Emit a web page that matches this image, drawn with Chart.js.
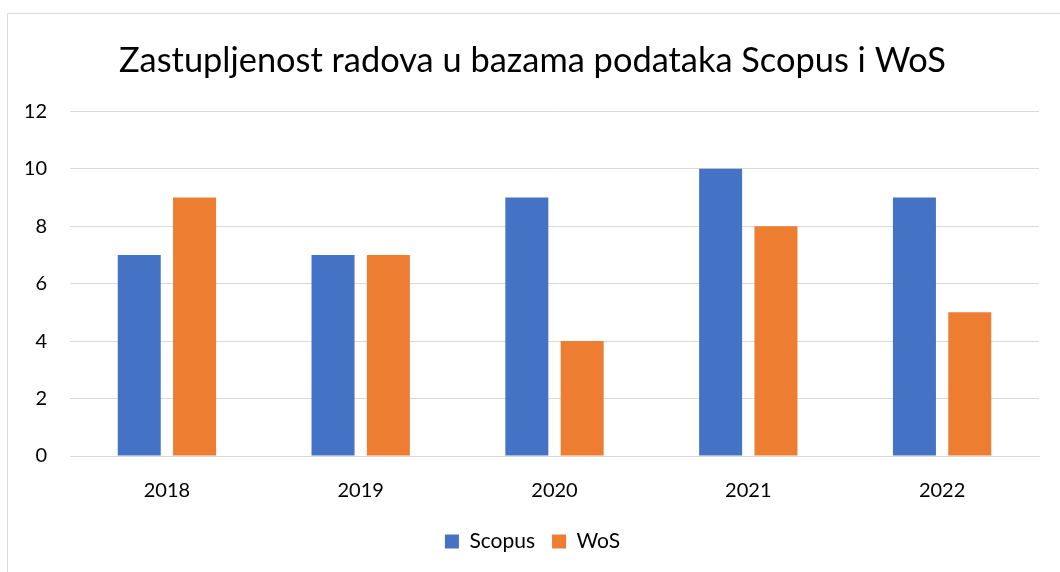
<!DOCTYPE html>
<html>
<head>
<meta charset="utf-8">
<script src="https://cdn.jsdelivr.net/npm/chart.js@4"></script>
<style>
html,body{margin:0;padding:0;background:#fff;overflow:hidden;}
#frame{position:absolute;left:7px;top:13px;width:1070px;height:580px;border:1px solid #d9d9d9;box-sizing:border-box;}
#c{position:absolute;left:8px;top:14px;}
</style>
</head>
<body>
<div id="frame"></div>
<canvas id="c" width="1052" height="558"></canvas>
<script>
const titleText = "Zastupljenost radova u bazama podataka Scopus i WoS";
const categories = ["2018", "2019", "2020", "2021", "2022"];
const scopus = [7, 7, 9, 10, 9];
const wos = [9, 7, 4, 8, 5];
const seriesNames = ["Scopus", "WoS"];

const FONT = "Lato";
new Chart(document.getElementById('c'), {
  type: 'bar',
  data: {
    labels: categories,
    datasets: [
      {label: seriesNames[0], data: scopus, backgroundColor: '#4472C4', categoryPercentage: 0.571, barPercentage: 0.777},
      {label: seriesNames[1], data: wos, backgroundColor: '#ED7D31', categoryPercentage: 0.571, barPercentage: 0.777}
    ]
  },
  options: {
    responsive: false,
    devicePixelRatio: 1,
    animation: false,
    layout: {padding: {left: 18, right: 21, top: 0, bottom: 10}},
    plugins: {
      title: {display: true, text: titleText, color: '#000', font: {family: FONT, size: 34.4, weight: 'normal'}, padding: {top: 26, bottom: 30}},
      legend: {position: 'bottom', labels: {color: '#000', boxWidth: 14, boxHeight: 14, padding: 17, font: {family: FONT, size: 21}}},
      tooltip: {enabled: false}
    },
    scales: {
      x: {
        grid: {display: false, drawTicks: false},
        border: {display: true, color: '#d9d9d9', width: 1},
        ticks: {color: '#000', padding: 23, font: {family: FONT, size: 20}},
        afterFit: (s) => { s.height -= 12; }
      },
      y: {
        min: 0, max: 12,
        grid: {color: '#d9d9d9', lineWidth: 1, drawTicks: false},
        border: {display: false},
        ticks: {stepSize: 2, color: '#000', padding: 23, font: {family: FONT, size: 20}},
        afterFit: (s) => { s.width = 44; }
      }
    }
  }
});
</script>
</body>
</html>
